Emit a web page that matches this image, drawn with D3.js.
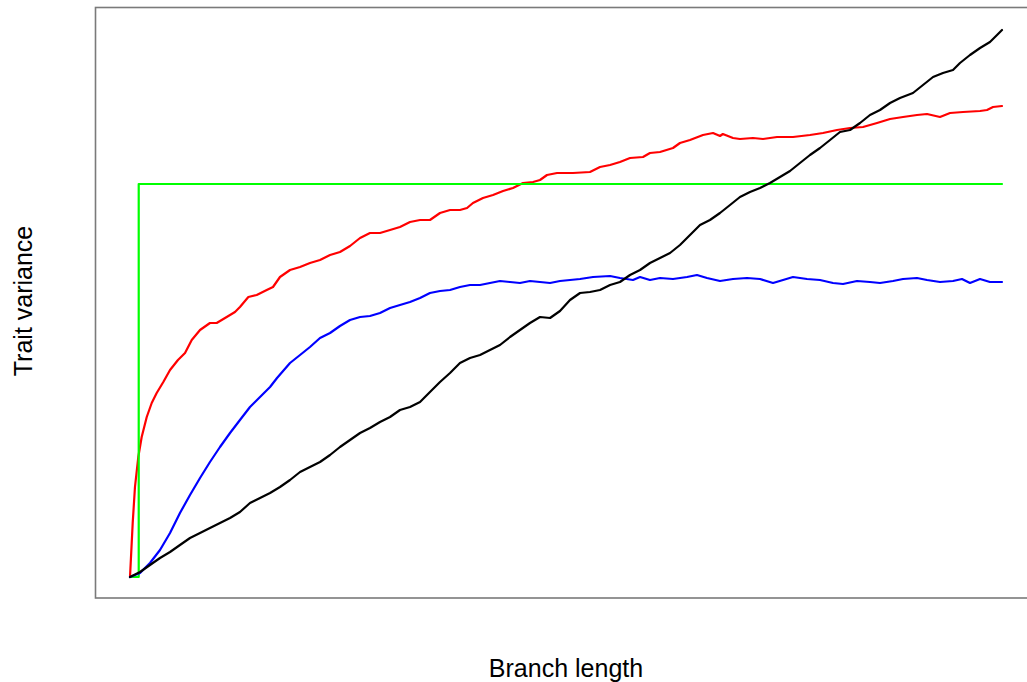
<!DOCTYPE html>
<html>
<head>
<meta charset="utf-8">
<script src="https://cdn.jsdelivr.net/npm/d3@7"></script>
<style>
  html, body { margin: 0; padding: 0; background: #ffffff; }
  svg { display: block; }
  text { font-family: "Liberation Sans", Arial, Helvetica, sans-serif; fill: #000; }
</style>
</head>
<body>
<svg id="chart" width="1027" height="682"></svg>
<script>
// Trait variance through time under four models of trait evolution.
// Each series: [branch length, trait variance]
const brownianSeries = [
  [0,0],[1.15,1.0],[2.29,2.4],[3.44,3.8],[4.59,5.0],[5.73,6.4],[6.88,7.8],[8.03,8.8],
  [9.17,9.8],[10.32,10.8],[11.47,11.8],[12.61,13.0],[13.76,14.8],[14.91,15.8],[16.06,16.8],
  [17.20,18.0],[18.35,19.4],[19.50,21.0],[20.64,22.0],[21.79,23.0],[22.94,24.4],[24.08,26.0],
  [25.23,27.4],[26.38,28.8],[27.52,29.8],[28.67,31.0],[29.82,32.0],[30.96,33.4],[32.11,34.0],
  [33.26,35.0],[34.40,37.0],[35.55,39.0],[36.70,40.8],[37.84,42.8],[38.99,43.8],[40.14,44.4],
  [41.28,45.4],[42.43,46.4],[43.58,48.0],[44.72,49.4],[45.87,50.8],[47.02,52.0],[48.17,51.8],
  [49.31,53.2],[50.46,55.4],[51.61,56.8],[52.75,57.0],[53.90,57.4],[55.05,58.4],[56.19,59.0],
  [57.34,60.4],[58.49,61.4],[59.63,62.8],[60.78,63.8],[61.93,64.8],[63.07,66.4],[64.22,68.4],
  [65.37,70.4],[66.51,71.4],[67.66,72.8],[68.81,74.4],[69.95,76.0],[71.10,77.0],[72.25,77.8],
  [73.39,78.8],[74.54,80.0],[75.69,81.2],[76.83,82.8],[77.98,84.4],[79.13,85.8],[80.28,87.4],
  [81.42,89.0],[82.57,89.4],[83.72,90.8],[84.86,92.4],[86.01,93.4],[87.16,94.8],[88.30,95.8],
  [89.79,96.8],[90.94,98.4],[92.09,100.0],[93.23,100.8],[94.38,101.4],[95.18,102.8],
  [96.33,104.4],[97.48,105.8],[98.62,107.0],[99.43,108.4],[100,109.4]
];

const earlyBurstSeries = [
  [0,0],[0.31,10.8],[0.57,18.0],[0.95,24.0],[1.34,28.0],[1.92,32.0],[2.49,34.8],[3.06,36.8],
  [3.82,39.0],[4.59,41.4],[5.50,43.4],[6.31,44.8],[7.08,47.4],[8.03,49.4],[9.17,50.8],
  [9.94,50.8],[11.09,52.0],[12.04,53.0],[12.61,54.0],[13.57,56.0],[14.53,56.4],[15.68,57.4],
  [16.40,58.0],[17.20,60.0],[18.35,61.4],[19.50,62.0],[20.64,62.8],[21.79,63.4],[22.94,64.4],
  [24.08,65.0],[25.23,66.2],[26.38,67.8],[27.52,68.8],[28.67,68.8],[29.82,69.4],[30.96,70.0],
  [32.11,71.0],[33.26,71.4],[34.40,71.4],[35.55,72.8],[36.70,73.4],[37.84,73.4],[38.65,73.8],
  [39.33,74.8],[40.48,75.8],[41.63,76.4],[42.78,77.2],[43.92,77.8],[45.07,78.8],[46.22,79.0],
  [47.02,79.4],[47.82,80.4],[48.97,80.8],[50.80,80.8],[52.75,81.0],[53.90,82.0],[55.05,82.4],
  [56.19,83.0],[57.34,83.8],[58.83,84.0],[59.63,84.8],[60.78,85.0],[62.27,85.8],[63.07,86.8],
  [64.22,87.4],[65.71,88.4],[66.86,88.8],[67.66,88.2],[67.99,88.6],[69.15,87.8],[69.95,87.6],
  [71.44,87.8],[72.59,87.6],[74.20,88.0],[76.03,88.0],[77.98,88.4],[79.47,88.8],[81.08,89.4],
  [82.57,89.8],[84.06,90.0],[85.67,90.8],[87.16,91.6],[88.65,92.0],[90.25,92.4],[91.40,92.6],
  [92.89,92.0],[94.04,92.8],[95.53,93.0],[97.48,93.2],[98.28,93.4],[98.97,94.0],[100,94.2]
];

const ouSeries = [
  [0,0],[1.15,0.8],[2.29,2.8],[3.44,5.4],[4.59,8.8],[5.73,12.8],[6.88,16.4],[8.03,19.8],
  [9.17,23.0],[10.32,26.0],[11.47,28.8],[12.61,31.4],[13.76,34.0],[14.91,36.0],[16.06,38.0],
  [16.86,39.8],[18.35,42.8],[19.50,44.4],[20.64,46.0],[21.79,47.8],[22.94,48.8],[24.08,50.2],
  [25.23,51.4],[26.38,52.0],[27.52,52.2],[28.67,52.8],[29.82,53.8],[30.96,54.4],[32.11,55.0],
  [33.26,55.8],[34.40,56.8],[35.55,57.2],[36.70,57.4],[37.84,58.0],[38.99,58.4],[40.14,58.4],
  [41.28,58.8],[42.43,59.2],[43.58,59.0],[44.72,58.8],[45.87,59.2],[47.02,59.0],[48.17,58.8],
  [49.31,59.2],[50.46,59.4],[51.61,59.6],[53.10,60.0],[55.05,60.2],[56.19,59.8],[57.68,59.4],
  [58.49,60.0],[59.63,59.4],[60.78,59.8],[62.27,59.6],[63.88,60.0],[65.02,60.4],[66.17,59.8],
  [67.66,59.2],[69.15,59.6],[70.76,59.8],[72.25,59.6],[73.74,58.8],[74.89,59.4],[76.03,60.0],
  [77.64,59.6],[79.13,59.4],[80.62,58.8],[81.77,58.6],[83.37,59.2],[84.86,59.0],[86.01,58.8],
  [87.50,59.2],[88.65,59.6],[90.25,59.8],[91.40,59.4],[92.89,59.0],[94.38,59.2],[95.41,59.6],
  [96.33,58.8],[97.48,59.6],[98.62,59.0],[100,59.0]
];

// Single jump in variance shortly after the root, then constant
const jumpSeries = [[0,0],[1,0],[1,78.6],[100,78.6]];

const xLabel = "Branch length";
const yLabel = "Trait variance";

const svg = d3.select("#chart");

const x = d3.scaleLinear().domain([0, 100]).range([130, 1002]);
const y = d3.scaleLinear().domain([0, 110]).range([577, 27]);

// Plot frame (the right edge runs past the page width)
svg.append("rect")
  .attr("x", 95.5).attr("y", 7.5)
  .attr("width", 948).attr("height", 590.5)
  .attr("fill", "none")
  .attr("stroke", "#7a7a7a")
  .attr("stroke-width", 1.6);

const line = d3.line()
  .x(d => x(d[0]))
  .y(d => y(d[1]));

const series = [
  { data: earlyBurstSeries, color: "#ff0000" },
  { data: jumpSeries, color: "#00ff00" },
  { data: ouSeries, color: "#0000ff" },
  { data: brownianSeries, color: "#000000" }
];

svg.append("g")
  .selectAll("path")
  .data(series)
  .join("path")
  .attr("d", d => line(d.data))
  .attr("fill", "none")
  .attr("stroke", d => d.color)
  .attr("stroke-width", 2.2)
  .attr("stroke-linejoin", "round")
  .attr("stroke-linecap", "round");

// Axis titles
svg.append("text")
  .attr("x", 566).attr("y", 677)
  .attr("text-anchor", "middle")
  .attr("font-size", 25)
  .text(xLabel);

svg.append("text")
  .attr("transform", "translate(32,301) rotate(-90)")
  .attr("text-anchor", "middle")
  .attr("font-size", 25)
  .text(yLabel);
</script>
</body>
</html>
